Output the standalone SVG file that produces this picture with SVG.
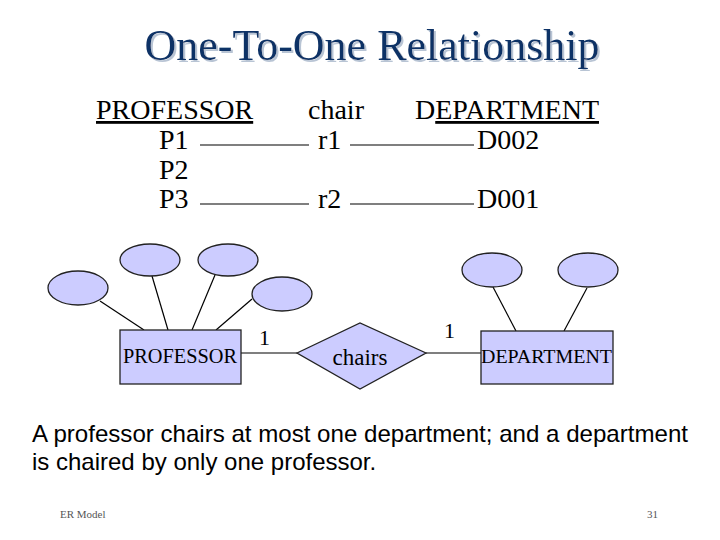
<svg xmlns="http://www.w3.org/2000/svg" width="720" height="540" viewBox="0 0 720 540">
<style>
.t{font-family:"Liberation Serif","Times New Roman",serif;fill:#000}
.tbl{font-size:28px}
.shape{fill:#ccccff;stroke:#222;stroke-width:1.3}
.ln{stroke:#000;stroke-width:1.2;fill:none}
.u{text-decoration:underline}
</style>
<defs>
<filter id="shadow" x="-5%" y="-20%" width="110%" height="150%">
<feOffset in="SourceAlpha" dx="2" dy="2" result="off"/>
<feFlood flood-color="#b8c4d4"/>
<feComposite in2="off" operator="in" result="sh"/>
<feMerge><feMergeNode in="sh"/><feMergeNode in="SourceGraphic"/></feMerge>
</filter>
</defs>
<rect width="720" height="540" fill="#fff"/>
<g id="title">
<text x="372" y="60" text-anchor="middle" class="t" font-size="44" style="fill:#113366" filter="url(#shadow)">One-To-One Relationship</text>
</g>
<g id="table">
<text x="96" y="119" class="t tbl u">PROFESSOR</text>
<text x="308" y="119" class="t tbl">chair</text>
<text x="415" y="119" class="t tbl">D<tspan class="u">EPARTMENT</tspan></text>
<text x="159" y="149" class="t tbl">P1</text>
<text x="159" y="179" class="t tbl">P2</text>
<text x="159" y="208" class="t tbl">P3</text>
<text x="318" y="149" class="t tbl">r1</text>
<text x="318" y="208" class="t tbl">r2</text>
<text x="477" y="149" class="t tbl">D002</text>
<text x="477" y="208" class="t tbl">D001</text>
<line class="ln" x1="200" y1="145" x2="309" y2="145"/>
<line class="ln" x1="350" y1="145" x2="474" y2="145"/>
<line class="ln" x1="200" y1="204" x2="309" y2="204"/>
<line class="ln" x1="350" y1="204" x2="474" y2="204"/>
</g>
<g id="connectors">
<line class="ln" x1="100" y1="301" x2="144" y2="330"/>
<line class="ln" x1="152" y1="276" x2="168" y2="330"/>
<line class="ln" x1="215" y1="275" x2="192" y2="330"/>
<line class="ln" x1="252" y1="299" x2="216" y2="330"/>
<line class="ln" x1="493" y1="287" x2="516" y2="331"/>
<line class="ln" x1="587" y1="288" x2="564" y2="331"/>
<line class="ln" x1="241" y1="353" x2="297" y2="353"/>
<line class="ln" x1="426" y1="353" x2="481" y2="353"/>
<text x="259" y="345" class="t" font-size="22">1</text>
<text x="444" y="338" class="t" font-size="22">1</text>
</g>
<g id="attr1"><ellipse class="shape" cx="78" cy="288" rx="30" ry="17"/></g>
<g id="attr2"><ellipse class="shape" cx="150" cy="260" rx="30" ry="16"/></g>
<g id="attr3"><ellipse class="shape" cx="228" cy="260" rx="30" ry="16"/></g>
<g id="attr4"><ellipse class="shape" cx="282" cy="294" rx="30" ry="17"/></g>
<g id="attr5"><ellipse class="shape" cx="492" cy="270" rx="30" ry="17"/></g>
<g id="attr6"><ellipse class="shape" cx="588" cy="270" rx="30" ry="17"/></g>
<g id="professor">
<rect class="shape" x="120" y="330" width="121" height="54"/>
<text x="123" y="363" class="t" font-size="20" textLength="114" lengthAdjust="spacingAndGlyphs">PROFESSOR</text>
</g>
<g id="chairs">
<polygon class="shape" points="297,353 360,323 426,353 360,389"/>
<text x="360" y="365" text-anchor="middle" class="t" font-size="23">chairs</text>
</g>
<g id="department">
<rect class="shape" x="481" y="331" width="132" height="53"/>
<text x="481" y="363" class="t" font-size="18" textLength="131" lengthAdjust="spacingAndGlyphs">DEPARTMENT</text>
</g>
<g id="caption" font-family="'Liberation Sans',Arial,sans-serif" font-size="24" fill="#000">
<text x="32" y="442" textLength="656" lengthAdjust="spacingAndGlyphs">A professor chairs at most one department; and a department</text>
<text x="32" y="470">is chaired by only one professor.</text>
</g>
<g id="footer" class="t" font-size="11">
<text x="60" y="518" style="fill:#555">ER Model</text>
<text x="647" y="518" style="fill:#555">31</text>
</g>
</svg>
